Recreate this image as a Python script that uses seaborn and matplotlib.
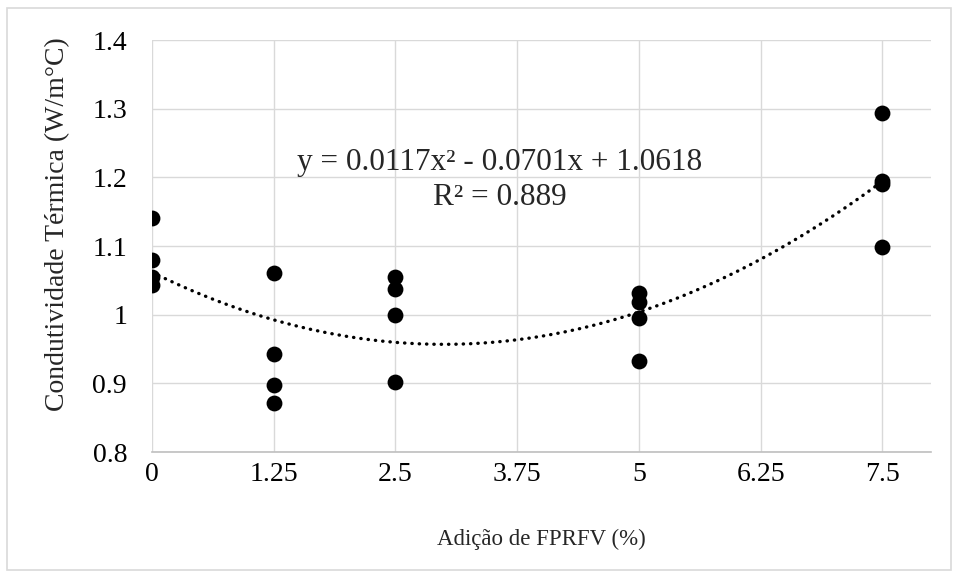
import numpy as np
import pandas as pd
import matplotlib
matplotlib.use("Agg")
import matplotlib.pyplot as plt
from matplotlib.patches import Rectangle
import seaborn as sns

# Data
adicao = [0, 0, 0, 0,
          1.25, 1.25, 1.25, 1.25,
          2.5, 2.5, 2.5, 2.5,
          5, 5, 5, 5,
          7.5, 7.5, 7.5, 7.5]
condutividade = [1.141, 1.080, 1.055, 1.043,
                 1.061, 0.943, 0.897, 0.872,
                 1.055, 1.037, 0.999, 0.902,
                 1.031, 1.019, 0.995, 0.933,
                 1.294, 1.195, 1.190, 1.099]
coef = [0.0117, -0.0701, 1.0618]
x_ticks = [0, 1.25, 2.5, 3.75, 5, 6.25, 7.5]
x_tick_labels = ["0", "1.25", "2.5", "3.75", "5", "6.25", "7.5"]
y_ticks = [0.8, 0.9, 1.0, 1.1, 1.2, 1.3, 1.4]
y_tick_labels = ["0.8", "0.9", "1", "1.1", "1.2", "1.3", "1.4"]
eq_text = "y = 0.0117x² - 0.0701x + 1.0618"
r2_text = "R² = 0.889"

df = pd.DataFrame({"x": adicao, "y": condutividade})

sns.set_theme(style="white")
plt.rcParams["font.family"] = ["Liberation Serif", "DejaVu Serif"]

fig = plt.figure(figsize=(9.57, 5.76), dpi=100)
ax = fig.add_axes([152/957, 1-452/576, (931-152)/957, (452-40)/576])

grid_c = "#d9d9d9"
for xt in x_ticks:
    ax.axvline(xt, color=grid_c, lw=1.0, zorder=0)
for yt in y_ticks:
    ax.axhline(yt, color=grid_c, lw=1.0, zorder=0)

# trendline
xs = np.linspace(0, 7.5, 300)
ys = np.polyval(coef, xs)
ax.plot(xs, ys, color="black", lw=2.4, linestyle=(0, (0.1, 2.1)),
        dash_capstyle="round", zorder=2)

sns.scatterplot(data=df, x="x", y="y", ax=ax, color="black", s=130,
                edgecolor="black", linewidth=0, zorder=3, legend=False)

ax.set_xlim(0, 8)
ax.set_ylim(0.8, 1.4)
ax.set_xticks(x_ticks)
ax.set_xticklabels(x_tick_labels)
ax.set_yticks(y_ticks)
ax.set_yticklabels(y_tick_labels)
ax.tick_params(axis="both", labelsize=20, length=0, colors="black")
ax.tick_params(axis="x", pad=7)
ax.tick_params(axis="y", pad=18)

for side in ["top", "right", "left"]:
    ax.spines[side].set_visible(False)
ax.spines["bottom"].set_color("#bfbfbf")
ax.spines["bottom"].set_linewidth(1.2)

ax.set_xlabel("Adição de FPRFV (%)", fontsize=16.5, labelpad=30)
ax.set_ylabel("Condutividade Térmica (W/m°C)", fontsize=20)
ax.yaxis.set_label_coords(-0.105, 0.553)

ax.text(3.57, 1.221, eq_text, fontsize=22.5, ha="center", va="center")
ax.text(3.57, 1.171, r2_text, fontsize=22.5, ha="center", va="center")

fig.patches.append(Rectangle((7/957, 1-570/576), (951-7)/957, (570-8)/576,
                             transform=fig.transFigure, fill=False,
                             edgecolor="#d9d9d9", lw=1.2))

fig.savefig("out.png", dpi=100)
